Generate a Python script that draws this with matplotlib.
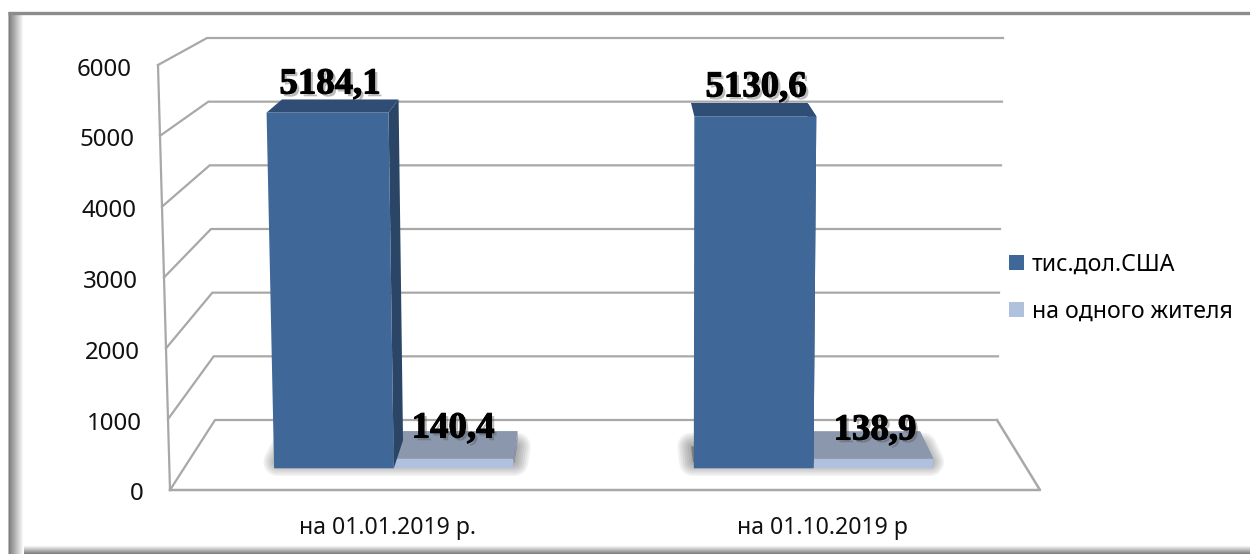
import numpy as np
import matplotlib
matplotlib.use('Agg')
import matplotlib.pyplot as plt
import matplotlib.patheffects as pe
from matplotlib.patches import Polygon, Patch

categories = ['на 01.01.2019 р.', 'на 01.10.2019 р']
usd_thousand = [5184.1, 5130.6]
per_resident = [140.4, 138.9]
series_names = ['тис.дол.США', 'на одного жителя']
usd_labels = ['5184,1', '5130,6']
resident_labels = ['140,4', '138,9']
y_ticks = [0, 1000, 2000, 3000, 4000, 5000, 6000]

W, H = 1250, 554
VMAX = 6000.0
D0, D1 = 0.31, 0.71

# кольори
DARK = '#3f6797'
DARK_SIDE = '#2a4565'
DARK_TOP = '#2f4d75'
LIGHT = '#b0c1de'
LIGHT_TOP = '#8a97ad'
GRID = '#a8a8a8'


# 3D box -> pixels: u along the floor, v value, d depth (0 front, 1 back)
def project(u, v, d):
    t = v / VMAX
    left = 170 + 45 * d - (12 - 4 * d) * t
    right = 1040 - 43 * d + (9 - 3 * d) * t
    y = 490 - 70 * d - t * (425 - 43 * d)
    return left + u * (right - left), y


def floor_shadow(ax, u0, u1):
    # soft shadow under a pair of bars
    d0, d1 = D0 + 0.09, D1 - 0.09
    shadow = [project(u0, 0, d0), project(u1, 0, d0),
              project(u1, 0, d1), project(u0, 0, d1)]
    for lw in [20, 17, 14, 11, 8, 5, 2]:
        ax.add_patch(Polygon(shadow, closed=True, fc='#404040', ec='#404040',
                             lw=lw, alpha=0.075, joinstyle='round', zorder=4))


def box(ax, u0, u1, v, front, top, side, z):
    ax.add_patch(Polygon([project(u1, 0, D0), project(u1, 0, D1),
                          project(u1, v, D1), project(u1, v, D0)],
                         closed=True, fc=side, ec='none', zorder=z))
    ax.add_patch(Polygon([project(u0, v, D0), project(u1, v, D0),
                          project(u1, v, D1), project(u0, v, D1)],
                         closed=True, fc=top, ec='none', zorder=z))
    ax.add_patch(Polygon([project(u0, 0, D0), project(u1, 0, D0),
                          project(u1, v, D0), project(u0, v, D0)],
                         closed=True, fc=front, ec='none', zorder=z + 1))


def value_label(ax, x, y, s):
    ax.text(x, y, s, ha='center', va='center', fontsize=26.5, fontweight='bold',
            family='Liberation Serif', color='black', zorder=20,
            path_effects=[pe.SimplePatchShadow(offset=(2, -2), shadow_rgbFace='#555555', alpha=0.4),
                          pe.withStroke(linewidth=0.8, foreground='black')])


fig = plt.figure(figsize=(W / 100, H / 100), dpi=100)
ax = fig.add_axes([0, 0, 1, 1])

# рамка
grad = np.linspace(1, 0.5, 9).reshape(-1, 1)
ax.imshow(grad, extent=(8, W, H, 545), cmap='gray', vmin=0, vmax=1, aspect='auto', zorder=1)
grad = np.concatenate([[0.72], np.linspace(0.5, 1, 15)]).reshape(1, -1)
ax.imshow(grad, extent=(8, 24, H, 12), cmap='gray', vmin=0, vmax=1, aspect='auto', zorder=1.5)
ax.plot([8, W], [13, 13], color='#8c8c8c', lw=2.4, zorder=2, solid_capstyle='butt')
ax.set_xlim(0, W)
ax.set_ylim(H, 0)
ax.axis('off')

# сітка
for v in y_ticks:
    pts = [project(1, v, 1), project(0, v, 1), project(0, v, 0)]
    ax.plot(*zip(*pts), color=GRID, lw=1.6, zorder=3, solid_joinstyle='miter')
ax.plot(*zip(project(0, 0, 0), project(0, VMAX, 0)), color=GRID, lw=1.6, zorder=3)
ax.plot(*zip(project(1, 0, 1), project(1, 0, 0), project(0, 0, 0)), color=GRID, lw=1.8, zorder=3)

# стовпчики
cat_w = 0.498
for i in range(len(categories)):
    base = 0.107 + i * cat_w
    floor_shadow(ax, base, base + 0.284)
    box(ax, base + 0.142, base + 0.284, per_resident[i], LIGHT, LIGHT_TOP, LIGHT_TOP, 5)
    box(ax, base, base + 0.142, usd_thousand[i], DARK, DARK_TOP, DARK_SIDE, 6)

# підписи значень
usd_xy = [(330, 84), (756, 87)]
res_xy = [(453, 428), (875, 430)]
for i in range(len(categories)):
    value_label(ax, usd_xy[i][0], usd_xy[i][1], usd_labels[i])
    value_label(ax, res_xy[i][0], res_xy[i][1], resident_labels[i])

# підписи осей
for v in y_ticks:
    x, y = project(0, v, 0)
    ax.text(x - 26, y + 4.5, str(v), ha='right', va='center',
            fontsize=17.3, family='Noto Sans', color='#111111', zorder=10)
cat_x = [387.5, 822]
for x, s in zip(cat_x, categories):
    ax.text(x, 528, s, ha='center', va='center', fontsize=16.6,
            family='Noto Sans', color='#111111', zorder=10)

# легенда
handles = [Patch(fc=DARK, ec='none', label=series_names[0]),
           Patch(fc=LIGHT, ec='none', label=series_names[1])]
leg = ax.legend(handles=handles, loc='center left', bbox_to_anchor=(1009 / W, 1 - 288 / H),
                bbox_transform=fig.transFigure, frameon=False, prop={'family': 'Noto Sans', 'size': 16.6},
                handlelength=0.65, handleheight=0.65, handletextpad=0.33, labelspacing=0.98,
                borderpad=0, borderaxespad=0)
leg.set_zorder(10)

fig.savefig('out.png', dpi=100)
